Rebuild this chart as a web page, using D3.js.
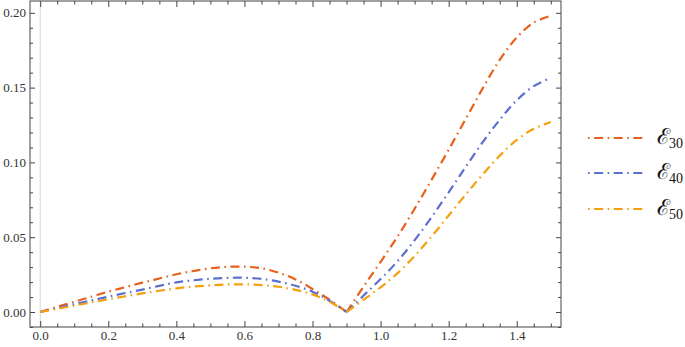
<!DOCTYPE html>
<html><head><meta charset="utf-8">
<script src="https://cdn.jsdelivr.net/npm/d3@7"></script>
<style>body{margin:0;background:#fff}svg{display:block}
.tick text{font-family:'Liberation Serif','Times New Roman',serif !important;}</style>
</head><body>
<svg id="c" width="685" height="347"></svg>
<script>
const xs = [0,0.05,0.1,0.15,0.2,0.25,0.3,0.35,0.4,0.45,0.5,0.55,0.6,0.65,0.7,0.75,0.8,0.85,0.9,0.95,1.0,1.05,1.1,1.15,1.2,1.25,1.3,1.35,1.4,1.45,1.5];
const e30 = [0,0.0035,0.0068,0.0102,0.0136,0.0166,0.0196,0.0224,0.0252,0.0274,0.0292,0.0302,0.0303,0.0292,0.0263,0.0218,0.0154,0.0082,0.0,0.0170,0.0335,0.0505,0.0690,0.0885,0.1085,0.129,0.1495,0.1685,0.1835,0.1935,0.198];
const e40 = [0,0.0026,0.0052,0.0077,0.0102,0.0127,0.0150,0.0175,0.0198,0.0212,0.0222,0.0228,0.0229,0.0221,0.0203,0.0175,0.0136,0.0075,0.0,0.011,0.022,0.034,0.048,0.0635,0.080,0.097,0.1135,0.1285,0.1415,0.151,0.1565];
const e50 = [0,0.0021,0.0043,0.0064,0.0085,0.0105,0.0124,0.0142,0.0158,0.0170,0.0178,0.0184,0.0185,0.0180,0.0169,0.0148,0.0118,0.0068,0.0,0.0082,0.0165,0.026,0.0375,0.0505,0.0645,0.0785,0.092,0.1045,0.115,0.1225,0.127];
const seriesNames = ["30","40","50"];
const seriesColors = ["#E8601C","#5B6FD0","#F5A00F"];
const xTicks = [0,0.2,0.4,0.6,0.8,1.0,1.2,1.4];
const yTicks = [0,0.05,0.10,0.15,0.20];

const svg = d3.select("#c");
const L=30,R=561,T=1,B=327;
const x = d3.scaleLinear().domain([-0.03,1.53]).range([L,R]);
const y = d3.scaleLinear().domain([-0.01003,0.2079]).range([B,T]);

svg.append("line").attr("x1",x(0)).attr("x2",x(0)).attr("y1",T).attr("y2",B)
  .attr("stroke","#d8d8d8").attr("stroke-width",1);

const frameColor="#444";
function minorsFor(majors, step, lo, hi){
  const m=[]; for(let v=lo; v<=hi+1e-9; v+=step){ const r=Math.round(v*1000)/1000; if(!majors.some(a=>Math.abs(a-r)<1e-6)) m.push(r);} return m;
}
const xMinor = minorsFor(xTicks, 0.05, 0, 1.5);
const yMinor = minorsFor(yTicks, 0.01, -0.01, 0.2);

const g = svg.append("g");
g.append("g").attr("transform",`translate(0,${B})`).call(d3.axisBottom(x).tickValues(xTicks).tickSize(-6).tickFormat(d3.format(".1f")).tickPadding(4));
g.append("g").attr("transform",`translate(0,${B})`).call(d3.axisBottom(x).tickValues(xMinor).tickSize(-3.5).tickFormat(""));
g.append("g").attr("transform",`translate(0,${T})`).call(d3.axisTop(x).tickValues(xTicks).tickSize(-6).tickFormat(""));
g.append("g").attr("transform",`translate(0,${T})`).call(d3.axisTop(x).tickValues(xMinor).tickSize(-3.5).tickFormat(""));
g.append("g").attr("transform",`translate(${L},0)`).call(d3.axisLeft(y).tickValues(yTicks).tickSize(-5).tickFormat(d3.format(".2f")).tickPadding(4));
g.append("g").attr("transform",`translate(${L},0)`).call(d3.axisLeft(y).tickValues(yMinor).tickSize(-3).tickFormat(""));
g.append("g").attr("transform",`translate(${R},0)`).call(d3.axisRight(y).tickValues(yTicks).tickSize(-5).tickFormat(""));
g.append("g").attr("transform",`translate(${R},0)`).call(d3.axisRight(y).tickValues(yMinor).tickSize(-3).tickFormat(""));
g.selectAll(".domain").remove();
g.selectAll(".tick line").attr("stroke",frameColor).attr("stroke-width",1);
g.selectAll(".tick text").attr("font-size",13).attr("fill","#333");
svg.append("rect").attr("x",L).attr("y",T).attr("width",R-L).attr("height",B-T)
  .attr("fill","none").attr("stroke",frameColor).attr("stroke-width",1);

const dash="9,4.5,1.6,4.5";
const line = d3.line().x(d=>x(d[0])).y(d=>y(d[1])).curve(d3.curveCatmullRom.alpha(0.5));
[e30,e40,e50].forEach((s,k)=>{
  const pts = xs.map((xv,i)=>[xv,s[i]]);
  const i0 = xs.indexOf(0.9);
  const d = line(pts.slice(0,i0+1)) + line(pts.slice(i0));
  svg.append("path").attr("d",d).attr("fill","none")
    .attr("stroke",seriesColors[k]).attr("stroke-width",2.2).attr("stroke-dasharray",dash);
});

const ly=[138,173,209];
seriesNames.forEach((n,k)=>{
  svg.append("line").attr("x1",588).attr("x2",643).attr("y1",ly[k]).attr("y2",ly[k])
    .attr("stroke",seriesColors[k]).attr("stroke-width",2.2).attr("stroke-dasharray","1.6,4.5,9,4.5");
  const t=svg.append("text").attr("x",657).attr("y",ly[k]+6).attr("font-family","'DejaVu Serif', serif").attr("fill","#111");
  t.append("tspan").attr("font-size",22).text("ℰ");
  t.append("tspan").attr("font-size",14).attr("font-family","'Liberation Serif', serif").attr("dx",-1).attr("dy",4).text(n);
});
</script>
</body></html>
